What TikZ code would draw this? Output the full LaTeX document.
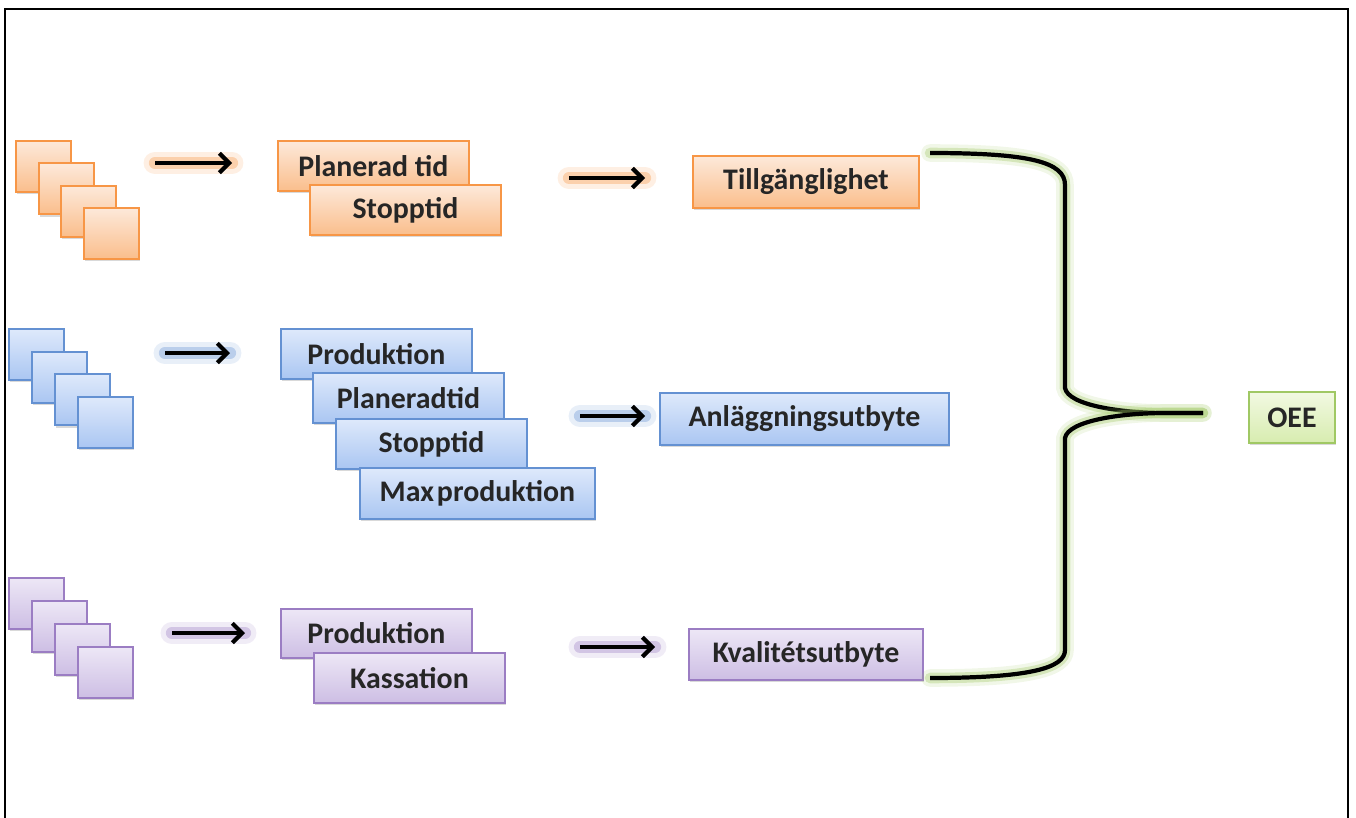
\documentclass[tikz,border=0pt]{standalone}
\usepackage{fontspec}
\setmainfont{Carlito}
\usetikzlibrary{positioning, arrows.meta, shadows}
\definecolor{orangeline}{RGB}{247,150,70}
\definecolor{orangetop}{RGB}{253,233,218}
\definecolor{orangebot}{RGB}{250,190,140}
\definecolor{blueline}{RGB}{100,145,210}
\definecolor{bluetop}{RGB}{222,233,251}
\definecolor{bluebot}{RGB}{170,198,242}
\definecolor{purpleline}{RGB}{155,125,195}
\definecolor{purpletop}{RGB}{237,231,246}
\definecolor{purplebot}{RGB}{205,190,228}
\definecolor{greenline}{RGB}{160,200,100}
\definecolor{greentop}{RGB}{242,249,226}
\definecolor{greenbot}{RGB}{215,236,175}

\begin{document}
\begin{tikzpicture}[x=0.02cm, y=-0.02cm,
        box/.style={draw, line width=1.1pt, inner sep=0pt, anchor=north west,
            minimum width=3.82cm, minimum height=1.0cm,
            font=\bfseries\fontsize{17}{20}\selectfont, text=black!85,
            drop shadow={shadow xshift=0.6pt, shadow yshift=-1.3pt, opacity=0.3}},
        obox/.style={box, draw=orangeline, top color=orangetop, bottom color=orangebot},
        bbox/.style={box, draw=blueline, top color=bluetop, bottom color=bluebot},
        pbox/.style={box, draw=purpleline, top color=purpletop, bottom color=purplebot},
        gbox/.style={box, draw=greenline, top color=greentop, bottom color=greenbot},
        sq/.style={minimum width=1.1cm, minimum height=1.02cm},
        garrow/.style={line width=2.4pt, -{Straight Barb[length=5.5pt, width=11pt]},
            preaction={draw=#1, arrows=-, line width=13pt, draw opacity=0.15, line cap=round},
            preaction={draw=#1, arrows=-, line width=7pt, draw opacity=0.35, line cap=round}},
        gbrace/.style={line width=2.4pt,
            preaction={draw=greenline, line width=10pt, draw opacity=0.15, line cap=round},
            preaction={draw=greenline, line width=6pt, draw opacity=0.35, line cap=round}}]

    \useasboundingbox (0,0) rectangle (1356,818);
    % ram
    \draw[line width=1.6pt] (5,818) -- (5,9) -- (1348,9) -- (1348,818);

    % tillgänglighet
    \foreach \i in {0,...,3}
        \node[obox, sq] (osq\i) at (15+22.7*\i,140+22.3*\i) {};
    \node[obox] (oplan) at (277,140) {Planerad tid};
    \node[obox] (ostop) at (309,184) {Stopptid};
    \node[obox, minimum width=4.52cm, minimum height=1.04cm] (till) at (692,155) {Tillgänglighet};

    \coordinate (oa1s) at (155,163);
    \coordinate (oa1e) at (232,163);
    \coordinate (oa2s) at (569,178);
    \coordinate (oa2e) at (645,178);
    \draw[garrow=orangeline] (oa1s) -- (oa1e);
    \draw[garrow=orangeline] (oa2s) -- (oa2e);

    % anläggningsutbyte
    \foreach \i in {0,...,3}
        \node[bbox, sq] (bsq\i) at (8+23*\i,328+22.7*\i) {};
    \node[bbox] (bprod) at (280,328) {Produktion};
    \node[bbox] (bplan) at (312,372) {Planeradtid};
    \node[bbox] (bstop) at (335,418) {Stopptid};
    \node[bbox, minimum width=4.7cm, minimum height=1.02cm] (bmax) at (359,467) {Max\hspace{0.1em}produktion};
    \node[bbox, minimum width=5.78cm, minimum height=1.04cm] (anl) at (659,392) {Anläggningsutbyte};

    \coordinate (ba1s) at (165,353);
    \coordinate (ba1e) at (230,353);
    \coordinate (ba2s) at (580,416);
    \coordinate (ba2e) at (645,416);
    \draw[garrow=blueline] (ba1s) -- (ba1e);
    \draw[garrow=blueline] (ba2s) -- (ba2e);

    % kvalitetsutbyte
    \foreach \i in {0,...,3}
        \node[pbox, sq] (psq\i) at (8+23*\i,577+23*\i) {};
    \node[pbox, minimum height=0.98cm] (pprod) at (280,608) {Produktion};
    \node[pbox] (pkass) at (313,652) {Kassation};
    \node[pbox, minimum width=4.68cm, minimum height=1.02cm] (kval) at (688,628) {Kvalitétsutbyte};

    \coordinate (pa1s) at (172,633);
    \coordinate (pa1e) at (245,633);
    \coordinate (pa2s) at (580,647);
    \coordinate (pa2e) at (655,647);
    \draw[garrow=purpleline] (pa1s) -- (pa1e);
    \draw[garrow=purpleline] (pa2s) -- (pa2e);

    % klammer mot OEE
    \node[gbox, minimum width=1.72cm, minimum height=1.02cm] (oee) at (1248,391) {OEE};
    \coordinate (btop) at (930,153);
    \coordinate (bbot) at (930,678);
    \coordinate (btip) at (1203,413);
    \draw[gbrace] (btop) .. controls (1030,153) and (1065,162) .. (1065,185)
        -- (1065,388) .. controls (1068,405) and (1120,413) .. (1165,413) -- (btip);
    \draw[gbrace] (btip) -- (1165,413) .. controls (1120,413) and (1068,421) .. (1065,438)
        -- (1065,650) .. controls (1065,668) and (1030,678) .. (bbot);
\end{tikzpicture}
\end{document}
